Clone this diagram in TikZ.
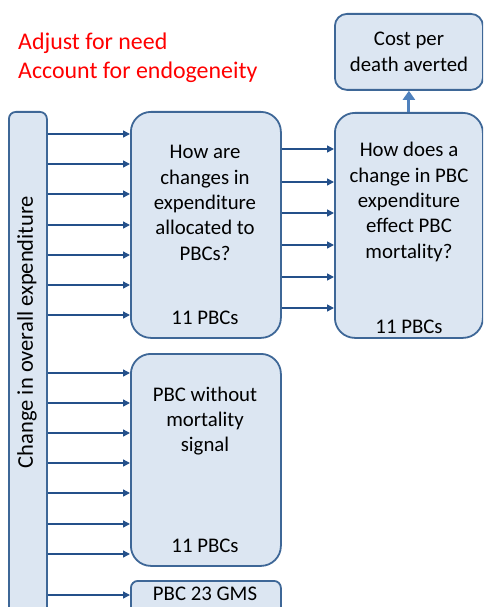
\documentclass[tikz,border=0pt]{standalone}
\usepackage{fontspec}
\setmainfont{Carlito}
\usetikzlibrary{arrows.meta}
\definecolor{boxfill}{HTML}{DCE6F2}
\definecolor{boxline}{HTML}{3E6797}
\definecolor{arrcol}{HTML}{24508A}
\definecolor{uparr}{HTML}{4F81BD}
\tikzset{
  box/.style={draw=boxline, fill=boxfill, line width=1.8pt, rounded corners=20pt, inner sep=0pt},
  sbox/.style={draw=boxline, fill=boxfill, line width=1.8pt, rounded corners=7pt, inner sep=0pt},
  txt/.style={font=\fontsize{20.8pt}{25.4pt}\selectfont, align=center, inner sep=0pt},
  redtxt/.style={font=\fontsize{23.9pt}{29pt}\selectfont, align=left, inner sep=0pt, text=red},
  arr/.style={draw=arrcol, line width=1.4pt, -{Triangle[length=7pt,width=7pt]}},
}
\begin{document}
\begin{tikzpicture}[x=1pt,y=1pt]
\useasboundingbox (0,0) rectangle (483,-607);
\clip (0,0) rectangle (483,-607);
% boxes
\node[sbox, minimum width=38pt, minimum height=520pt, anchor=north west] (L) at (8,-111) {};
\node[box, minimum width=150pt, minimum height=226pt, anchor=north west] (b1) at (130,-111) {};
\node[box, minimum width=148pt, minimum height=225pt, anchor=north west] (b2) at (334,-112) {};
\node[box, rounded corners=12pt, minimum width=148pt, minimum height=76pt, anchor=north west] (cost) at (334,-13) {};
\node[box, minimum width=150pt, minimum height=212pt, anchor=north west] (b3) at (130,-353) {};
\node[sbox, minimum width=150pt, minimum height=50pt, anchor=north west] (b4) at (130,-580) {};
% texts
\node[redtxt, anchor=west] (red) at (18,-58) {Adjust for need\\Account for endogeneity};
\node[txt, rotate=90, font=\fontsize{22.5pt}{27pt}\selectfont] (Ltxt) at (27,-332) {Change in overall expenditure};
\node[txt] (t1) at (205,-203) {How are\\changes in\\expenditure\\allocated to\\PBCs?};
\node[txt] (n1) at (205,-318) {11 PBCs};
\node[txt] (t2) at (409,-202) {How does a\\change in PBC\\expenditure\\effect PBC\\mortality?};
\node[txt] (n2) at (409,-327) {11 PBCs};
\node[txt] (tc) at (409,-52) {Cost per\\death averted};
\node[txt] (t3) at (205,-421) {PBC without\\mortality\\signal};
\node[txt] (n3) at (205,-546) {11 PBCs};
\node[txt] (t4) at (205,-594) {PBC 23 GMS};
% arrows left -> b1
\foreach \y in {134,164,194,225,255,285,315}
  \draw[arr] (L.east |- 0,-\y) -- (b1.west |- 0,-\y);
% arrows left -> b3
\foreach \y in {373,403,433,463,493,524,554}
  \draw[arr] (L.east |- 0,-\y) -- (b3.west |- 0,-\y);
% arrow left -> b4
\draw[arr] (L.east |- 0,-595) -- (b4.west |- 0,-595);
% arrows b1 -> b2
\foreach \y in {149,182,213,245,277,308}
  \draw[arr] (b1.east |- 0,-\y) -- (b2.west |- 0,-\y);
% up arrow
\draw[draw=uparr, line width=3pt, -{Triangle[length=9pt,width=12pt]}] (b2.north) -- (cost.south);
\end{tikzpicture}
\end{document}
